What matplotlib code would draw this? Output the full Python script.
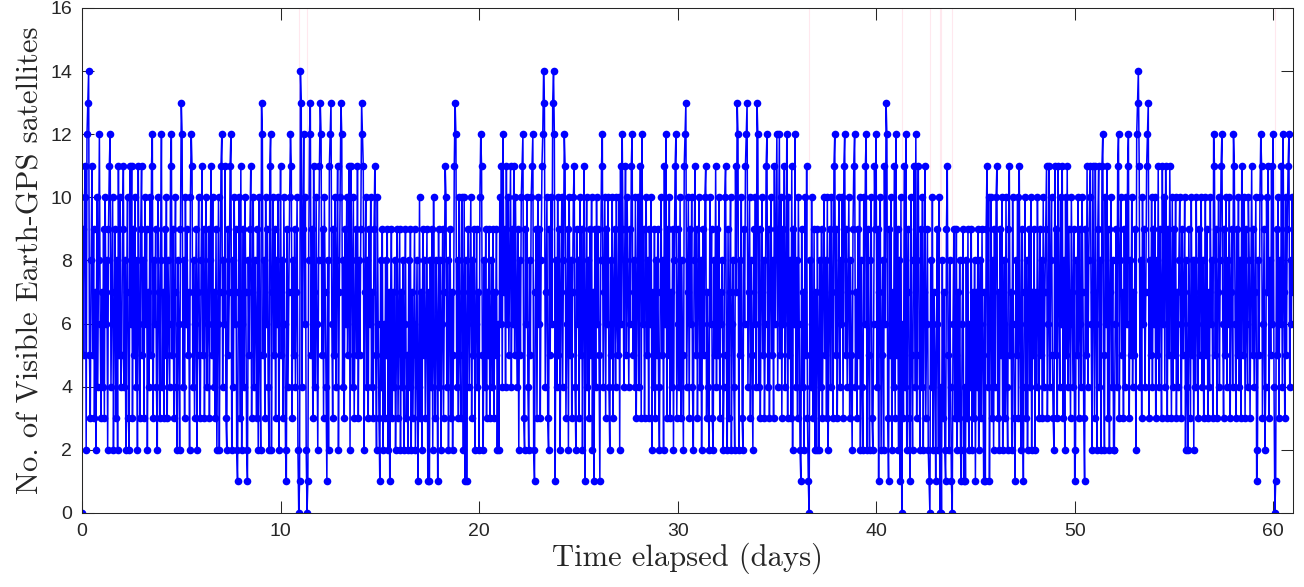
import numpy as np
import matplotlib
matplotlib.use('Agg')
import matplotlib.pyplot as plt

# visible satellite count, one string per day, one hex digit per hour (a=10 ... e=14)
days_00_09 = [
    "095ab2cde538b59372a48c63",
    "7493a6829bc47a269382b5a4",
    "59b4827a32b6b395a482b639",
    "b583a69274a5bc386942a738",
    "c47395a3864bc5937a428629",
    "dc483a69572acb4836927a53",
    "8b5937a46938b5a473926a27",
    "bc486b32957bc284a69217a3",
    "b2694a721859b37a486392a5",
    "2dc583a6942bc27a59386a27",
]
days_10_19 = [
    "b583a621947acb385947a201",
    "ed49c6a2018cd593b74a628b",
    "dc593a74182bcd6395a48b27",
    "adc48396a57b2b84a3695b38",
    "59dcb27a48396a4739b52a63",
    "184926385927169374825936",
    "927482693528492736925814",
    "a3729583691718492a538619",
    "4826937ba482693725bdc483",
    "a53a72a1816947a385926947",
]
days_20_29 = [
    "2acb52849375936849375926",
    "2a6b4c794b6a58b496b5a749",
    "285abc3296a4285abc21793a",
    "6938bced47a3295a6dec184a",
    "5927a48cb3692a5837ab4296",
    "83a5927b16a48395a27194a6",
    "9518bc47a396a4285a3794a6",
    "5a2b6c948b5a7496bc584a37",
    "a48b3c6937a58396a2749385",
    "9427a582b6c395a374928bc3",
]
days_30_39 = [
    "694a3852bcd47a396a428b59",
    "37a482695ab3742a693285b4",
    "95a376824ab52937a26842b7",
    "dc285a3296bcd47a385296a4",
    "dc4937a5836bc4937a583b69",
    "c48c5a396b47c3a583b296c4",
    "83a6219472a5b31084a63927",
    "295284937a583a2694a73bc5",
    "937a486a3bc5947a38529bc4",
    "7395a2842a6bc29528a326b9",
]
days_40_49 = [
    "c4917a2582b6dc3195a274b3",
    "c59281a063b4c27931a528b4",
    "c38b5294a27b36921084a275",
    "1692a040837219b528410693",
    "592738216914183926492738",
    "17492683951719b4a16a3829",
    "4ab37295a2683a429b572a63",
    "185a3b629417a382694a2759",
    "274a639583a479b36b48a532",
    "b593b74a6b382a5b4963a749",
]
days_50_60 = [
    "1285a3964a73195b48ab62b7",
    "3b629b482bc52a6b3927a482",
    "2694bc38a57394a6bc385a47",
    "592cdeb483a6947bcd385a49",
    "6a385b4973b6a4b8395b73a4",
    "95a3748a63957a2842963a58",
    "284a63957a4836a59374a683",
    "cb5937a48bc6395a486a3794",
    "cb6395a483b75a3964a837b5",
    "947a1285acb36924a7b385b6",
    "c40195a386b4c73a59bc486a",
]
final_count = 7
samples_per_day = 24

all_days = days_00_09 + days_10_19 + days_20_29 + days_30_39 + days_40_49 + days_50_60
counts = np.array([int(c, 16) for d in all_days for c in d] + [final_count])
t = np.arange(len(counts)) / samples_per_day

txt = '#262626'
fig = plt.figure(figsize=(13.04, 5.87), dpi=100)
ax = fig.add_axes([0.0629, 0.1261, 0.9287, 0.8603])

# faint markers where no satellite is visible
for tz in t[counts == 0]:
    ax.axvline(tz, color='#ffe8ee', lw=0.8, zorder=0)

ax.plot(t, counts, '-o', color='b', lw=1.1, ms=5.5, mew=0)

ax.set_xlim(0, 61)
ax.set_ylim(0, 16)
ax.set_xticks(np.arange(0, 61, 10))
ax.set_yticks(np.arange(0, 17, 2))
ax.tick_params(direction='in', length=8.5, width=0.75, top=True, right=True,
               labelsize=14, colors=txt, pad=7)
for lab in ax.get_xticklabels() + ax.get_yticklabels():
    lab.set_fontfamily('Liberation Sans')
for s in ax.spines.values():
    s.set_linewidth(0.75)
    s.set_color(txt)

ax.set_xlabel('Time elapsed (days)', fontfamily='cmr10', fontsize=22, color=txt, labelpad=2)
ax.set_ylabel('No. of Visible Earth-GPS satellites', fontfamily='cmr10', fontsize=22,
              color=txt, labelpad=4)

fig.savefig('out.png', dpi=100)
